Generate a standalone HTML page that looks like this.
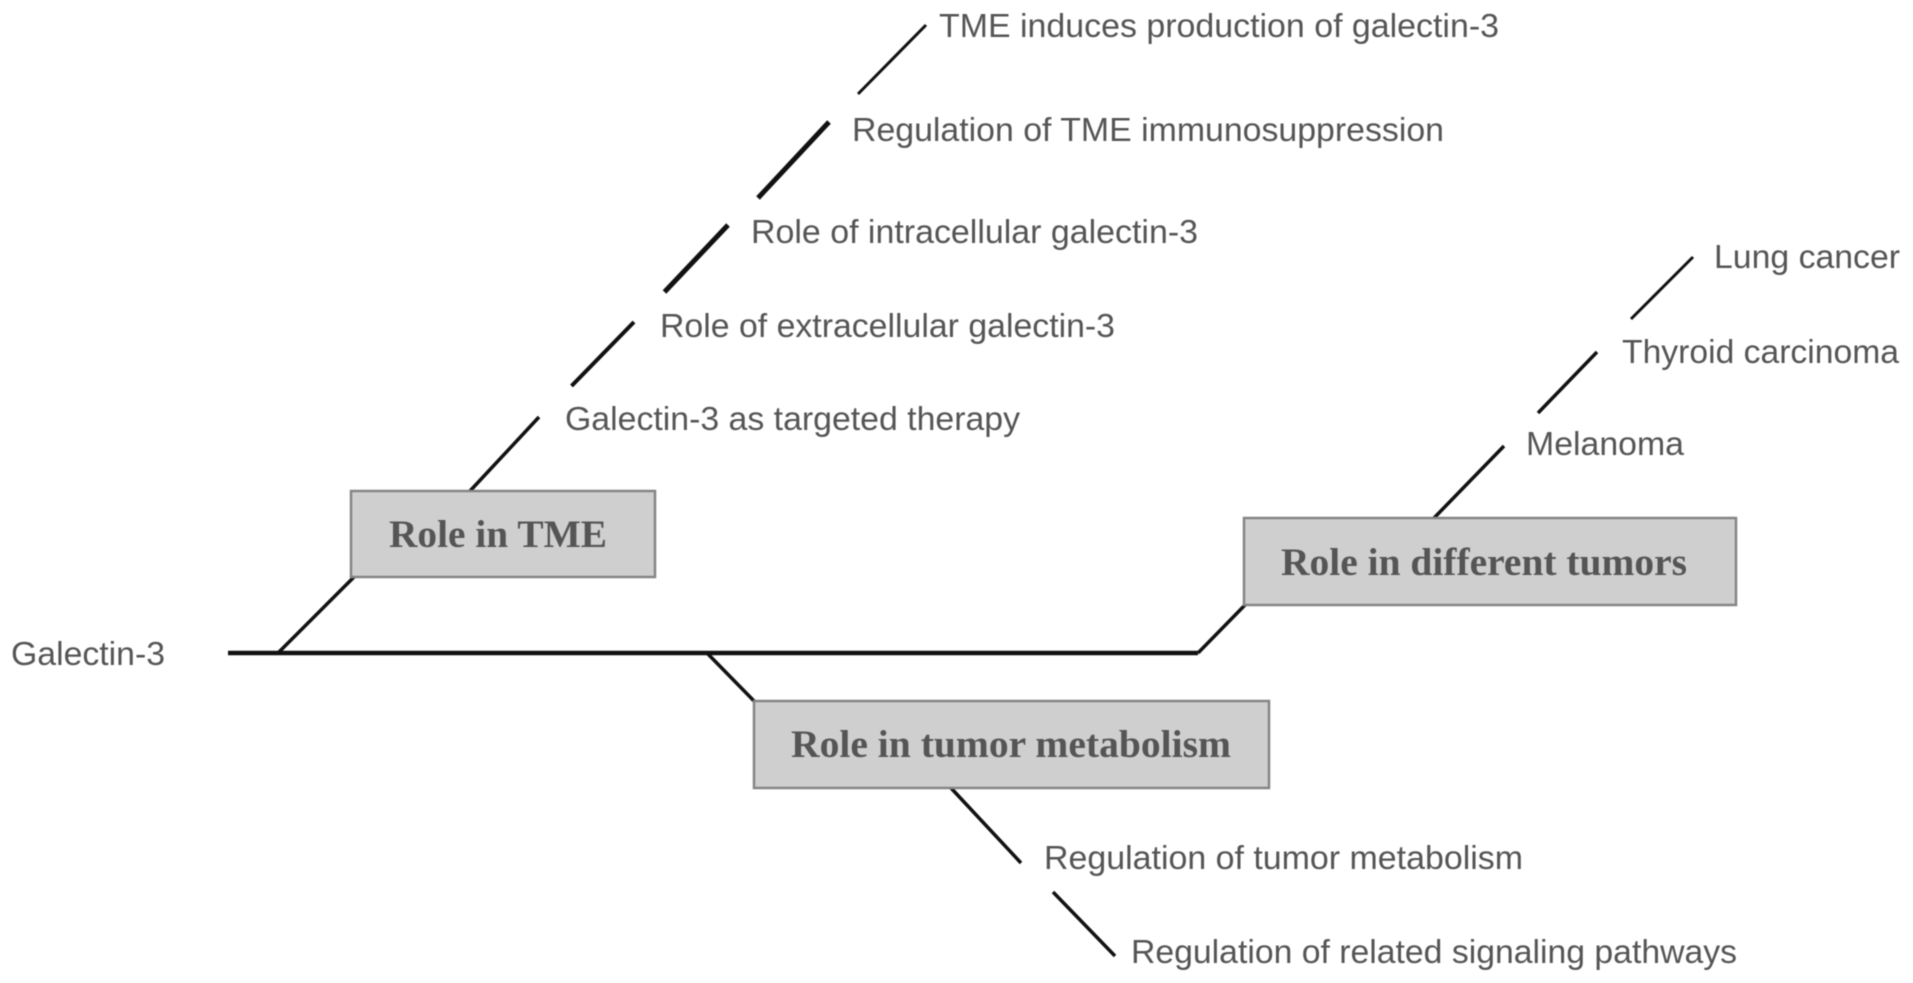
<!DOCTYPE html>
<html><head><meta charset="utf-8"><style>
html,body{margin:0;padding:0;background:#fff;width:1913px;height:983px;overflow:hidden}
svg{display:block;filter:blur(.6px)}
.t{font-family:"Liberation Sans",sans-serif;font-size:33px;fill:#555}
.h{font-family:"Liberation Serif",serif;font-size:39px;font-weight:bold;fill:#555}
line{stroke:#111;stroke-width:3.5}
rect{fill:#cfcfcf;stroke:#858585;stroke-width:2.5}
</style></head><body>
<svg width="1913" height="983" viewBox="0 0 1913 983" xmlns="http://www.w3.org/2000/svg">
<line x1="228" y1="653" x2="1198" y2="653" style="stroke-width:4.5"/>
<line x1="278" y1="653" x2="354" y2="577"/>
<line x1="1198" y1="653" x2="1245" y2="605"/>
<line x1="707" y1="653" x2="755" y2="702"/>
<line x1="470" y1="491" x2="539" y2="417"/>
<line x1="571.5" y1="386" x2="634" y2="322" style="stroke-width:4"/>
<line x1="664.5" y1="292" x2="728" y2="225" style="stroke-width:5"/>
<line x1="758" y1="198" x2="829" y2="122" style="stroke-width:5"/>
<line x1="858" y1="94" x2="926" y2="25" style="stroke-width:3"/>
<line x1="1434" y1="518" x2="1504" y2="446"/>
<line x1="1538" y1="413" x2="1597" y2="352"/>
<line x1="1631" y1="319" x2="1693" y2="257" style="stroke-width:3"/>
<line x1="951" y1="788" x2="1021" y2="863"/>
<line x1="1053" y1="892" x2="1115" y2="956"/>
<rect x="351" y="491" width="304" height="86"/>
<rect x="1244" y="518" width="492" height="87"/>
<rect x="754" y="701" width="515" height="87"/>
<text class="h" x="389" y="547" textLength="218" lengthAdjust="spacingAndGlyphs">Role in TME</text>
<text class="h" x="1281" y="575" textLength="406" lengthAdjust="spacingAndGlyphs">Role in different tumors</text>
<text class="h" x="791" y="757" textLength="440" lengthAdjust="spacingAndGlyphs">Role in tumor metabolism</text>
<text class="t" x="11" y="665" textLength="154" lengthAdjust="spacingAndGlyphs">Galectin-3</text>
<text class="t" x="939" y="37" textLength="560" lengthAdjust="spacingAndGlyphs">TME induces production of galectin-3</text>
<text class="t" x="852" y="141" textLength="592" lengthAdjust="spacingAndGlyphs">Regulation of TME immunosuppression</text>
<text class="t" x="751" y="243" textLength="447" lengthAdjust="spacingAndGlyphs">Role of intracellular galectin-3</text>
<text class="t" x="660" y="337" textLength="455" lengthAdjust="spacingAndGlyphs">Role of extracellular galectin-3</text>
<text class="t" x="565" y="430" textLength="455" lengthAdjust="spacingAndGlyphs">Galectin-3 as targeted therapy</text>
<text class="t" x="1714" y="268" textLength="186" lengthAdjust="spacingAndGlyphs">Lung cancer</text>
<text class="t" x="1622" y="363" textLength="277" lengthAdjust="spacingAndGlyphs">Thyroid carcinoma</text>
<text class="t" x="1526" y="455" textLength="158" lengthAdjust="spacingAndGlyphs">Melanoma</text>
<text class="t" x="1044" y="869" textLength="479" lengthAdjust="spacingAndGlyphs">Regulation of tumor metabolism</text>
<text class="t" x="1131" y="963" textLength="606" lengthAdjust="spacingAndGlyphs">Regulation of related signaling pathways</text>
</svg>
</body></html>
